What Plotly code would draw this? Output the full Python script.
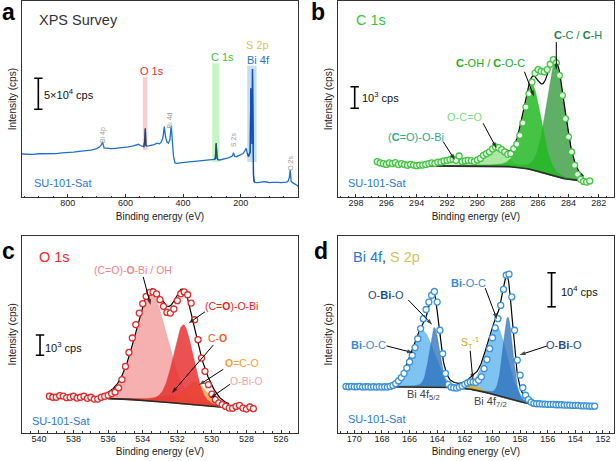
import numpy as np
import plotly.graph_objects as go

# ---------------- data ----------------
# (a) survey, intensity in 10^4 cps
survey_be = [960, 940, 920, 900, 880, 860, 840, 820, 800, 780, 760, 740, 720, 700, 690, 684, 679, 674,
             665, 650, 635, 620, 605, 590, 575, 562, 555, 548, 540, 536, 533, 531, 529, 526, 520, 510,
             500, 490, 482, 476, 470, 465, 461, 456, 451, 446, 441, 437, 433, 428, 420, 410, 400, 380,
             360, 340, 320, 300, 292, 288, 285, 282, 278, 272, 262, 250, 240, 232, 228, 225, 221, 215,
             208, 200, 192, 186, 181, 177, 173, 170, 167, 164.5, 162, 160.5, 159, 157.5, 155.5, 153.5,
             150, 140, 130, 120, 110, 100, 90, 80, 70, 60, 50, 42, 36, 31, 28, 25, 20, 12, 5, 0]
survey_int = [6.98, 6.95, 6.93, 7.02, 7.00, 7.09, 7.05, 7.18, 7.20, 7.28, 7.42, 7.52, 7.62, 7.85, 8.10,
              8.45, 8.85, 7.95, 7.88, 7.84, 7.90, 7.95, 8.05, 8.12, 8.25, 8.50, 8.55, 8.35, 8.20, 8.15,
              9.20, 11.10, 8.40, 8.25, 8.30, 8.35, 8.50, 8.72, 8.62, 8.90, 9.60, 11.40, 9.80, 8.95, 8.72,
              9.20, 11.55, 9.00, 6.60, 5.55, 5.48, 5.55, 5.62, 5.70, 5.78, 5.85, 5.95, 6.08, 6.12, 6.25,
              8.70, 6.30, 6.05, 6.02, 6.18, 6.28, 6.40, 6.55, 6.70, 7.20, 6.62, 6.55, 6.70, 6.85, 7.05,
              7.45, 7.90, 7.10, 6.60, 6.90, 7.30, 17.60, 9.40, 8.60, 20.70, 7.50, 3.60, 2.55, 2.40, 2.36,
              2.45, 2.52, 2.47, 2.38, 2.42, 2.36, 2.40, 2.38, 2.36, 2.45, 2.55, 3.20, 4.40, 2.60, 2.36,
              2.20, 1.95, 1.75]
survey_ticks = [800, 600, 400, 200]

# (b) C 1s, intensity in 10^3 cps
c1s_start, c1s_step, c1s_n = 296.6, 0.2, 71
c1s_int = [1.66, 1.60, 1.57, 1.53, 1.60, 1.57, 1.61, 1.52, 1.57, 1.52,
           1.49, 1.53, 1.50, 1.47, 1.50, 1.50, 1.53, 1.57, 1.60, 1.58,
           1.63, 1.64, 1.69, 1.72, 1.75, 1.77, 1.72, 1.92, 1.66, 1.69,
           1.72, 1.71, 1.66, 1.74, 1.81, 1.95, 2.03, 2.11, 2.25, 2.34,
           2.31, 2.22, 2.11, 2.00, 2.03, 2.26, 2.47, 2.88, 3.46, 4.20,
           4.82, 5.36, 5.78, 5.94, 5.86, 5.83, 5.94, 6.19, 6.40, 6.25,
           5.67, 4.74, 3.66, 2.81, 2.11, 1.49, 1.07, 0.84, 0.74, 0.71, 0.76]
c1s_names = ["(C=O)-O-Bi", "O-C=O", "C-C / C-H", "C-OH / C-O-C"]
c1s_center = [291.6, 288.7, 284.85, 286.4]
c1s_height = [0.25, 0.80, 5.25, 3.95]
c1s_fwhm = [1.8, 1.5, 1.45, 1.45]
c1s_bg = [0.74, 1.46, 285.5, 0.8]          # low, high, step centre, step width
c1s_fit_range = [293.2, 283.0]
c1s_ticks = [298, 296, 294, 292, 290, 288, 286, 284, 282]

# (c) O 1s, intensity in 10^3 cps
o1s_start, o1s_step, o1s_n = 539.4, 0.2, 60
o1s_int = [1.81, 1.76, 1.76, 1.84, 1.82, 1.74, 1.76, 1.81, 1.72, 1.76,
           1.81, 1.71, 1.76, 1.67, 1.67, 1.76, 1.81, 1.86, 1.94, 2.02,
           2.22, 2.63, 3.28, 3.97, 4.68, 5.34, 5.91, 6.37, 6.73, 6.93,
           6.95, 6.85, 6.57, 6.24, 5.94, 5.91, 6.11, 6.52, 6.86, 6.95,
           6.81, 6.40, 5.58, 4.60, 3.69, 3.04, 2.38, 1.92, 1.64, 1.48,
           1.40, 1.31, 1.23, 1.22, 1.31, 1.36, 1.23, 1.18, 1.28, 1.20]
o1s_names = ["(C=O)-O-Bi / OH", "C-O", "O-Bi-O", "O=C-O", "(C=O)-O-Bi"]
o1s_center = [533.5, 532.4, 530.3, 530.95, 531.65]
o1s_height = [5.25, 0.35, 0.45, 1.15, 3.9]
o1s_fwhm = [2.2, 1.8, 1.3, 1.5, 1.35]
o1s_bg = [1.19, 1.73, 532.0, 1.5]
o1s_fit_range = [536.0, 529.0]
o1s_ticks = [540, 538, 536, 534, 532, 530, 528, 526]

# (d) Bi 4f / S 2p, intensity in 10^4 cps
bi_start, bi_step, bi_n = 170.6, 0.2, 91
bi_int = [1.37, 1.36, 1.37, 1.36, 1.36, 1.37, 1.35, 1.36, 1.36, 1.35, 1.36, 1.35, 1.36, 1.35, 1.36, 1.35, 1.37,
          1.40, 1.45, 1.53, 1.63, 1.75, 1.91, 2.09, 2.28, 2.51, 2.77, 3.07, 3.36, 3.63, 3.85, 4.05, 4.16,
          3.85, 3.02, 2.33, 1.75, 1.43, 1.35, 1.33, 1.32, 1.35, 1.38, 1.43, 1.47, 1.50, 1.50, 1.49, 1.55,
          1.65, 1.89, 2.16, 2.48, 2.80, 3.09, 3.36, 3.75, 4.22, 4.64, 4.67, 4.00, 3.02, 2.14, 1.70, 1.33,
          1.11, 0.98, 0.91, 0.87,
          0.86, 0.86, 0.85, 0.85, 0.84, 0.84, 0.84, 0.83, 0.83, 0.83, 0.82, 0.82, 0.82, 0.81, 0.81, 0.81,
          0.80, 0.80, 0.80, 0.79, 0.79, 0.79]
bi_names = ["Bi-O-C 4f5/2", "Bi-O-C 4f7/2", "O-Bi-O 4f5/2", "O-Bi-O 4f7/2", "S_T 2p"]
bi_center = [165.05, 159.7, 164.2, 158.88, 161.5]
bi_height = [1.65, 2.05, 1.75, 2.4, 0.15]
bi_fwhm = [1.95, 1.8, 0.85, 0.85, 1.0]
bi_bg = [0.80, 1.36, 159.5, 1.1]
bi_fit_range = [167.9, 157.2]
bi_ticks = [170, 168, 166, 164, 162, 160, 158, 156, 154, 152]

# scale bars (length in the panel's intensity unit)
scale_a, scale_b, scale_c, scale_d = 5, 1, 1, 1

# ---------------- helpers ----------------
FONT = "Liberation Sans, Arial, sans-serif"
DARK = "#333333"


def pv(x, c, h, w, m=0.2):
    t = (x - c) / w
    return h * ((1 - m) * np.exp(-4 * np.log(2) * t * t) + m / (1 + 4 * t * t))


def step_bg(x, p):
    lo, hi, c, w = p
    return lo + (hi - lo) / (1 + np.exp(-(x - c) / w))


fig = go.Figure()


def add_fit(xa, ya, rng, bgp, centers, heights, fwhms, colors, names):
    g = np.linspace(rng[0], rng[1], 400)
    bg = step_bg(g, bgp)
    total = np.zeros_like(g)
    for c, h, w, col, nm in zip(centers, heights, fwhms, colors, names):
        comp = pv(g, c, h, w)
        total += comp
        fig.add_trace(go.Scatter(x=np.concatenate([g, g[::-1]]), y=np.concatenate([bg + comp, bg[::-1]]),
                                 fill="toself", fillcolor=col, mode="lines",
                                 line=dict(width=0.5, color=col), name=nm,
                                 xaxis=xa, yaxis=ya, showlegend=False, hoverinfo="skip"))
    fig.add_trace(go.Scatter(x=g, y=bg, mode="lines", line=dict(color="#2b2b2b", width=1.6),
                             xaxis=xa, yaxis=ya, showlegend=False, hoverinfo="skip"))
    fig.add_trace(go.Scatter(x=g, y=bg + total, mode="lines", line=dict(color="black", width=1.2),
                             xaxis=xa, yaxis=ya, showlegend=False, hoverinfo="skip"))


def add_scale(xa, ya, x, y0, length):
    fig.add_trace(go.Scatter(x=[x, x], y=[y0, y0 + length], mode="lines+markers",
                             line=dict(color="black", width=1.6),
                             marker=dict(symbol="line-ew", size=6, line=dict(color="black", width=1.6)),
                             xaxis=xa, yaxis=ya, showlegend=False, hoverinfo="skip"))


def add_arrow(xa, ya, tail, head):
    fig.add_trace(go.Scatter(x=[tail[0], head[0]], y=[tail[1], head[1]], mode="lines+markers",
                             line=dict(color="black", width=1),
                             marker=dict(symbol=["circle", "arrow"], size=[0, 6.5], color="black",
                                         angleref="previous", line=dict(width=0)),
                             xaxis=xa, yaxis=ya, showlegend=False, hoverinfo="skip"))


# ---- (a) survey ----
sbe = np.array(survey_be, dtype=float)
sint = np.array(survey_int, dtype=float)
fig.add_trace(go.Scatter(x=sbe, y=sint, mode="lines", line=dict(color="#1f6fd0", width=1.3),
                         xaxis="x", yaxis="y", showlegend=False, name="SU-101-Sat"))
for lo, hi, col in [(523.6, 539.6, "#3a3d55"), (273.4, 298.8, "#2a4f52"), (144.8, 177.2, "#1550b0")]:
    m = (sbe >= lo) & (sbe <= hi)
    fig.add_trace(go.Scatter(x=sbe[m], y=sint[m], mode="lines", line=dict(color=col, width=1.3),
                             xaxis="x", yaxis="y", showlegend=False, hoverinfo="skip"))
add_scale("x", "y", 902.3, 14.19, scale_a)

# ---- (b) C 1s ----
add_fit("x2", "y2", c1s_fit_range, c1s_bg, c1s_center, c1s_height, c1s_fwhm,
        ["rgba(195,240,185,0.75)", "rgba(150,228,140,0.8)", "rgba(55,155,65,0.8)", "rgba(35,185,35,0.85)"],
        c1s_names)
c1s_be = np.round(c1s_start - c1s_step * np.arange(c1s_n), 2)
fig.add_trace(go.Scatter(x=c1s_be, y=c1s_int, mode="markers",
                         marker=dict(symbol="circle", size=6, color="rgba(235,255,235,1)",
                                     line=dict(color="#45c445", width=1.3)),
                         xaxis="x2", yaxis="y2", showlegend=False))
add_scale("x2", "y2", 298.08, 4.14, scale_b)

# ---- (c) O 1s ----
add_fit("x3", "y3", o1s_fit_range, o1s_bg, o1s_center, o1s_height, o1s_fwhm,
        ["rgba(243,150,150,0.75)", "rgba(225,95,55,0.75)", "rgba(248,190,190,0.8)",
         "rgba(245,165,75,0.85)", "rgba(232,50,50,0.85)"],
        o1s_names)
o1s_be = np.round(o1s_start - o1s_step * np.arange(o1s_n), 2)
fig.add_trace(go.Scatter(x=o1s_be, y=o1s_int, mode="markers",
                         marker=dict(symbol="circle", size=6, color="white",
                                     line=dict(color="#e52a2a", width=1.3)),
                         xaxis="x3", yaxis="y3", showlegend=False))
add_scale("x3", "y3", 539.94, 3.83, scale_c)

# ---- (d) Bi 4f ----
add_fit("x4", "y4", bi_fit_range, bi_bg, bi_center, bi_height, bi_fwhm,
        ["rgba(95,180,240,0.8)", "rgba(95,180,240,0.8)", "rgba(40,110,185,0.75)",
         "rgba(40,110,185,0.75)", "rgba(215,180,50,0.9)"],
        bi_names)
bi_be = np.round(bi_start - bi_step * np.arange(bi_n), 2)
fig.add_trace(go.Scatter(x=bi_be, y=bi_int, mode="markers",
                         marker=dict(symbol="circle", size=6, color="white",
                                     line=dict(color="#3a92dc", width=1.3)),
                         xaxis="x4", yaxis="y4", showlegend=False))
add_scale("x4", "y4", 155.72, 3.71, scale_d)

# arrows
add_arrow("x2", "y2", (284.8, 7.22), (284.8, 5.92))
add_arrow("x2", "y2", (286.9, 5.84), (286.27, 4.68))
add_arrow("x2", "y2", (289.62, 3.44), (288.74, 2.28))
add_arrow("x2", "y2", (292.25, 2.59), (291.48, 1.73))
add_arrow("x3", "y3", (533.97, 7.69), (533.54, 6.30))
add_arrow("x3", "y3", (530.4, 5.97), (531.36, 5.40))
add_arrow("x3", "y3", (529.92, 4.33), (532.32, 1.96))
add_arrow("x3", "y3", (529.34, 3.14), (530.75, 2.36))
add_arrow("x3", "y3", (528.95, 2.40), (530.11, 1.71))
add_arrow("x4", "y4", (166.09, 3.91), (164.35, 3.18))
add_arrow("x4", "y4", (167.67, 2.56), (165.73, 2.36))
add_arrow("x4", "y4", (160.52, 4.26), (159.67, 3.34))
add_arrow("x4", "y4", (156.04, 2.56), (158.05, 2.29))
add_arrow("x4", "y4", (161.61, 2.42), (161.42, 1.56))

# ---------------- layout ----------------
W, H = 616, 461
xl = [21.7 / W, 298.3 / W]
xr = [337.7 / W, 614.0 / W]
yt = [1 - 197.3 / H, 1 - 1.0 / H]
yb = [1 - 433.0 / H, 1 - 235.7 / H]


def xax(dom, rng, ticks, minor, anchor):
    return dict(domain=dom, range=rng, autorange=False, anchor=anchor, showline=True, linecolor=DARK,
                linewidth=1.3, mirror=True, ticks="inside", ticklen=3, tickwidth=1, tickcolor=DARK,
                tickmode="array", tickvals=ticks, tickfont=dict(size=9, color="#222"), showgrid=False,
                zeroline=False, ticklabelstandoff=-3,
                minor=dict(ticks="inside", ticklen=1.5, tickwidth=0.8, tickcolor=DARK, tickmode="linear",
                           tick0=0, dtick=minor, showgrid=False),
                title=dict(text="Binding energy (eV)", font=dict(size=10, color="#222"), standoff=5))


def yax(dom, rng, anchor):
    return dict(domain=dom, range=rng, autorange=False, anchor=anchor, showline=True, linecolor=DARK,
                linewidth=1.3, mirror=True, ticks="", showticklabels=False, showgrid=False, zeroline=False,
                title=dict(text="Intensity (cps)", font=dict(size=10, color="#222"), standoff=2))


fig.update_layout(
    width=W, height=H, margin=dict(l=0, r=0, t=0, b=0), paper_bgcolor="white", plot_bgcolor="white",
    font=dict(family=FONT, color="#222"), showlegend=False,
    xaxis=xax(xl, [960, 0], survey_ticks, 50, "y"),
    yaxis=yax(yt, [0, 31.66], "x"),
    xaxis2=xax(xr, [299.2, 281.0], c1s_ticks, 0.5, "y2"),
    yaxis2=yax(yt, [0, 9.13], "x2"),
    xaxis3=xax(xl, [541.0, 525.0], o1s_ticks, 0.5, "y3"),
    yaxis3=yax(yb, [0, 9.72], "x3"),
    xaxis4=xax(xr, [171.2, 151.2], bi_ticks, 0.5, "y4"),
    yaxis4=yax(yb, [0, 5.80], "x4"),
)

# highlight boxes on survey
for x0, x1, y0, y1, col in [(539.6, 523.6, 7.63, 19.35, "rgba(246,170,170,0.6)"),
                            (298.8, 273.4, 5.69, 21.6, "rgba(160,238,160,0.6)"),
                            (177.2, 144.8, 5.69, 21.2, "rgba(160,205,240,0.65)")]:
    fig.add_shape(type="rect", xref="x", yref="y", x0=x0, x1=x1, y0=y0, y1=y1, fillcolor=col,
                  line=dict(width=0), layer="below")

ann = []


def txt(x, y, text, xref, yref, size=11, color="#222", xanchor="center", yanchor="middle", angle=0):
    ann.append(dict(x=x, y=y, xref=xref, yref=yref, text=text, showarrow=False, xanchor=xanchor,
                    yanchor=yanchor, textangle=angle, font=dict(size=size, color=color, family=FONT)))


# panel letters
for x, y, s in [(0.0, 1 - 12.5 / H, "a"), (309 / W, 1 - 12.5 / H, "b"), (0.0, 1 - 250.5 / H, "c"),
                (312 / W, 1 - 250.5 / H, "d")]:
    txt(x, y, "<b>%s</b>" % s, "paper", "paper", size=23, color="black", xanchor="left")

# panel titles & sample names
txt(0.054, 0.903, "XPS Survey", "x domain", "y domain", 14.5, "#333", "left")
txt(0.058, 0.903, "C 1s", "x2 domain", "y2 domain", 14.5, "#3cc43c", "left")
txt(0.054, 0.894, "O 1s", "x3 domain", "y3 domain", 14.5, "#ee2a2a", "left")
txt(0.049, 0.894, "<span style='color:#2a78d8'>Bi 4f</span>, <span style='color:#d6c25e'>S 2p</span>",
    "x4 domain", "y4 domain", 14.5, "#333", "left")
for xa, yd, xd in [("x", 0.075, 0.036), ("x2", 0.075, 0.030), ("x3", 0.062, 0.030), ("x4", 0.072, 0.030)]:
    ya = xa.replace("x", "y")
    txt(xd, yd, "SU-101-Sat", xa + " domain", ya + " domain", 11, "#2a78d8", "left")

# scale-bar labels
txt(890.5, 16.7, "5×10<sup>4</sup> cps", "x", "y", 11, "#111", "left")
txt(297.75, 4.66, "10<sup>3</sup> cps", "x2", "y2", 11, "#111", "left")
txt(539.75, 4.24, "10<sup>3</sup> cps", "x3", "y3", 11, "#111", "left")
txt(155.2, 4.16, "10<sup>4</sup> cps", "x4", "y4", 11, "#111", "left")

# (a) labels
txt(508.3, 20.37, "O 1s", "x", "y", 11, "#f03030")
txt(262.3, 22.55, "C 1s", "x", "y", 11, "#3cc43c")
txt(140.7, 24.56, "S 2p", "x", "y", 11, "#d6c25e")
txt(139.0, 22.15, "Bi 4f", "x", "y", 11, "#2a70d0")
for x, y, s in [(677.5, 10.05, "Bi 4p"), (447.1, 12.47, "Bi 4d"), (224.8, 9.32, "S 2s"), (25.3, 5.40, "O 2s")]:
    txt(x, y, s, "x", "y", 7, "#9a9a9a", angle=-90)

# (b) labels
txt(283.35, 7.55, "<b>C</b>-C / <b>C</b>-H", "x2", "y2", 11, "#23824a")
txt(289.15, 6.25, "<b>C</b>-OH / <b>C</b>-O-C", "x2", "y2", 11, "#22aa22")
txt(290.82, 3.75, "O-C=O", "x2", "y2", 11, "#7fdc7f")
txt(294.04, 2.80, "(<b>C</b>=O)-O-Bi", "x2", "y2", 11, "#35a58a")

# (c) labels
txt(534.56, 8.03, "(C=O)-<b>O</b>-Bi / OH", "x3", "y3", 10.5, "#f08585")
txt(528.85, 6.26, "(C=<b>O</b>)-O-Bi", "x3", "y3", 10.5, "#e82020")
txt(529.65, 4.68, "C-<b>O</b>", "x3", "y3", 10.5, "#f05a28")
txt(528.28, 3.45, "<b>O</b>=C-O", "x3", "y3", 10.5, "#f5a030")
txt(527.99, 2.56, "O-Bi-O", "x3", "y3", 10.5, "#f7a3a3")

# (d) labels
txt(167.67, 4.06, "O-<b>Bi</b>-O", "x4", "y4", 11, "#1f4e8c")
txt(169.0, 2.59, "<b>Bi</b>-O-C", "x4", "y4", 11, "#3a8ad8")
txt(161.73, 4.40, "<b>Bi</b>-O-C", "x4", "y4", 11, "#3a8ad8")
txt(154.83, 2.59, "O-<b>Bi</b>-O", "x4", "y4", 11, "#1f4e8c")
txt(161.61, 2.64, "S<sub>T</sub><sup>-1</sup>", "x4", "y4", 10.5, "#c8a62a")
txt(165.0, 1.12, "Bi 4f<sub>5/2</sub>", "x4", "y4", 11, "#444")
txt(160.15, 0.92, "Bi 4f<sub>7/2</sub>", "x4", "y4", 11, "#444")

fig.update_layout(annotations=ann)
fig.write_html("out.html", config={"displayModeBar": False},
               post_script="document.body.style.margin='0';document.body.style.overflow='hidden';")
